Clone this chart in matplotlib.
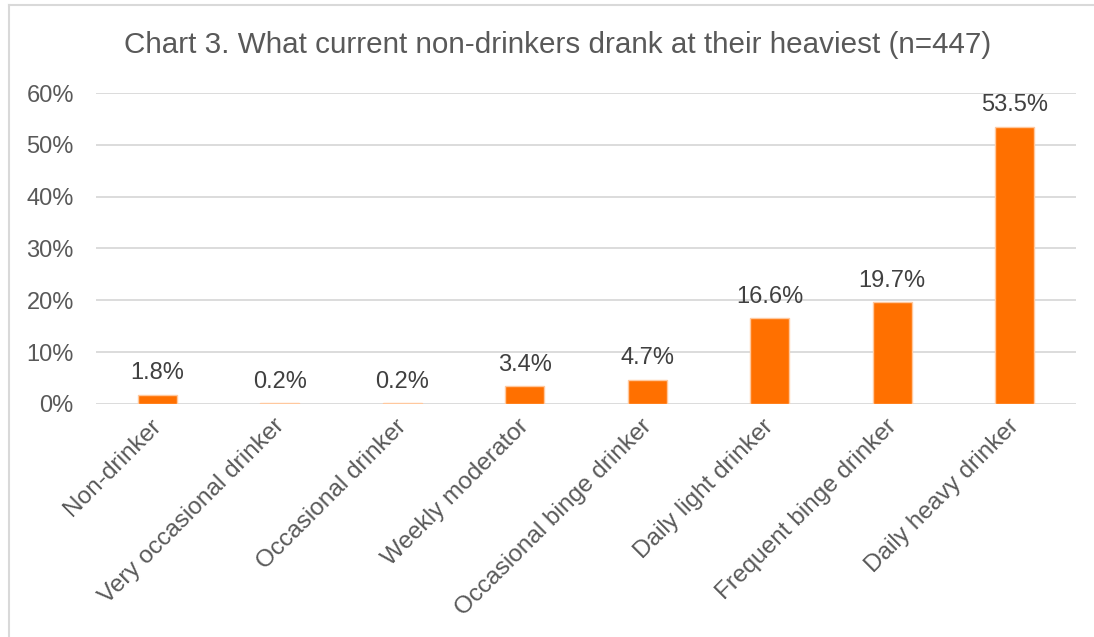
import matplotlib
matplotlib.use('Agg')
import matplotlib.pyplot as plt
import matplotlib.transforms as mtrans
from matplotlib.ticker import PercentFormatter
from matplotlib.lines import Line2D
import numpy as np

plt.rcParams['font.family'] = ['Liberation Sans', 'DejaVu Sans']

categories = ['Non-drinker', 'Very occasional drinker', 'Occasional drinker',
              'Weekly moderator', 'Occasional binge drinker', 'Daily light drinker',
              'Frequent binge drinker', 'Daily heavy drinker']
values = [1.8, 0.2, 0.2, 3.4, 4.7, 16.6, 19.7, 53.5]
labels = ['1.8%', '0.2%', '0.2%', '3.4%', '4.7%', '16.6%', '19.7%', '53.5%']
yticks = [0, 10, 20, 30, 40, 50, 60]

ORANGE = '#FF7000'
GRID = '#D9D9D9'
TXT = '#595959'

fig = plt.figure(figsize=(10.94, 6.37), dpi=100)
ax = fig.add_axes([0.0878, 0.3658, 0.8957, 0.4882])

x = np.arange(len(categories))
ax.bar(x, values, width=0.32, color=ORANGE, edgecolor='#FFC89E',
       linewidth=1.0, zorder=3)
for xi, v, lab in zip(x, values, labels):
    ax.text(xi, v + 2.0, lab, ha='center', va='bottom', fontsize=17, color='#404040')

ax.set_xlim(-0.5, len(categories) - 0.5)
ax.set_ylim(0, 60)
ax.set_yticks(yticks)
ax.yaxis.set_major_formatter(PercentFormatter(decimals=0))
ax.grid(axis='y', color=GRID, linewidth=1.3, zorder=0)
for s in ax.spines.values():
    s.set_visible(False)
ax.tick_params(axis='y', length=0, pad=16, labelsize=17, labelcolor=TXT)
ax.tick_params(axis='x', length=0, pad=8)
ax.set_xticks(x)
ax.set_xticklabels(categories, rotation=45, ha='right', va='top',
                   rotation_mode='anchor', fontsize=17.6, color=TXT)
offset = mtrans.ScaledTranslation(-0.07, 0, fig.dpi_scale_trans)
for t in ax.get_xticklabels():
    t.set_transform(t.get_transform() + offset)

fig.text(0.51, 0.93, 'Chart 3. What current non-drinkers drank at their heaviest (n=447)',
         ha='center', va='center', fontsize=21.3, color=TXT)

# outer chart frame
fig.add_artist(Line2D([0.0085, 0.0085], [0, 0.992], transform=fig.transFigure,
                      color=GRID, linewidth=1.5))
fig.add_artist(Line2D([0.0085, 1.0], [0.992, 0.992], transform=fig.transFigure,
                      color=GRID, linewidth=1.5))

fig.savefig('out.png', dpi=100)
